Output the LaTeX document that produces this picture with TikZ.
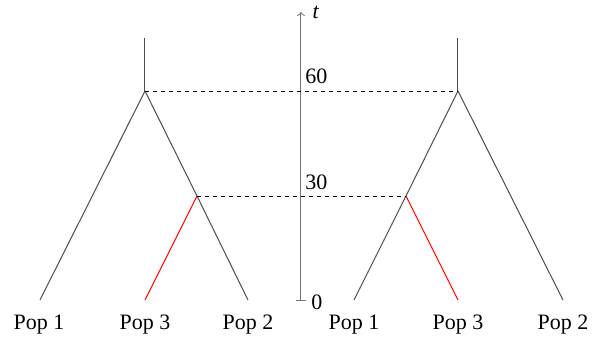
\documentclass[tikz,border=0pt]{standalone}
\usepackage{fontspec}
\setmainfont{Liberation Serif}
\usetikzlibrary{arrows}

\begin{document}
\begin{tikzpicture}[x=0.5pt, y=-0.5pt,
        lineage/.style={draw=black!70, line width=0.5pt},
        admix/.style={draw=red, line width=0.5pt},
        link/.style={draw=black, line width=0.4pt, dash pattern=on 2pt off 2pt},
        timeaxis/.style={draw=black!55, line width=0.5pt},
        lab/.style={font=\fontsize{11}{13}\selectfont, inner sep=0pt}
    ]
        \useasboundingbox (0,0) rectangle (602,338);

        % Time axis
        \coordinate (t0) at (301,300);
        \coordinate (ttop) at (301,12);
        \coordinate (tickl) at (296,300);
        \coordinate (tickr) at (306,300);
        \draw[timeaxis, ->, >=to] (t0) -- (ttop);
        \draw[timeaxis] (tickl) -- (tickr);
        \node[lab] (tlab) at (316,12) {\textit{t}};
        \node[lab] (lab0) at (317,302) {0};
        \node[lab] (lab30) at (316.5,182) {30};
        \node[lab] (lab60) at (316.5,76) {60};

        % Left tree
        \coordinate (ltop) at (145,38);
        \coordinate (lroot) at (145,91);
        \coordinate (lsplit) at (197,196);
        \coordinate (lpop1) at (40,300);
        \coordinate (lpop3) at (145,300);
        \coordinate (lpop2) at (248,300);
        \draw[lineage] (ltop) -- (lroot);
        \draw[lineage] (lroot) -- (lpop1);
        \draw[lineage] (lroot) -- (lsplit) -- (lpop2);
        \draw[admix] (lsplit) -- (lpop3);

        % Right tree
        \coordinate (rtop) at (458,38);
        \coordinate (rroot) at (458,91);
        \coordinate (rsplit) at (406,196);
        \coordinate (rpop1) at (354,300);
        \coordinate (rpop3) at (458,300);
        \coordinate (rpop2) at (563,300);
        \draw[lineage] (rtop) -- (rroot);
        \draw[lineage] (rroot) -- (rsplit) -- (rpop1);
        \draw[lineage] (rroot) -- (rpop2);
        \draw[admix] (rsplit) -- (rpop3);

        % Split times
        \draw[link] (lroot) -- (rroot);
        \draw[link] (lsplit) -- (rsplit);

        % Population labels
        \node[lab] (lname1) at (39,325) {Pop 1};
        \node[lab] (lname3) at (145,325) {Pop 3};
        \node[lab] (lname2) at (248,325) {Pop 2};
        \node[lab] (rname1) at (354,325) {Pop 1};
        \node[lab] (rname3) at (458,325) {Pop 3};
        \node[lab] (rname2) at (563,325) {Pop 2};
    \end{tikzpicture}
\end{document}
